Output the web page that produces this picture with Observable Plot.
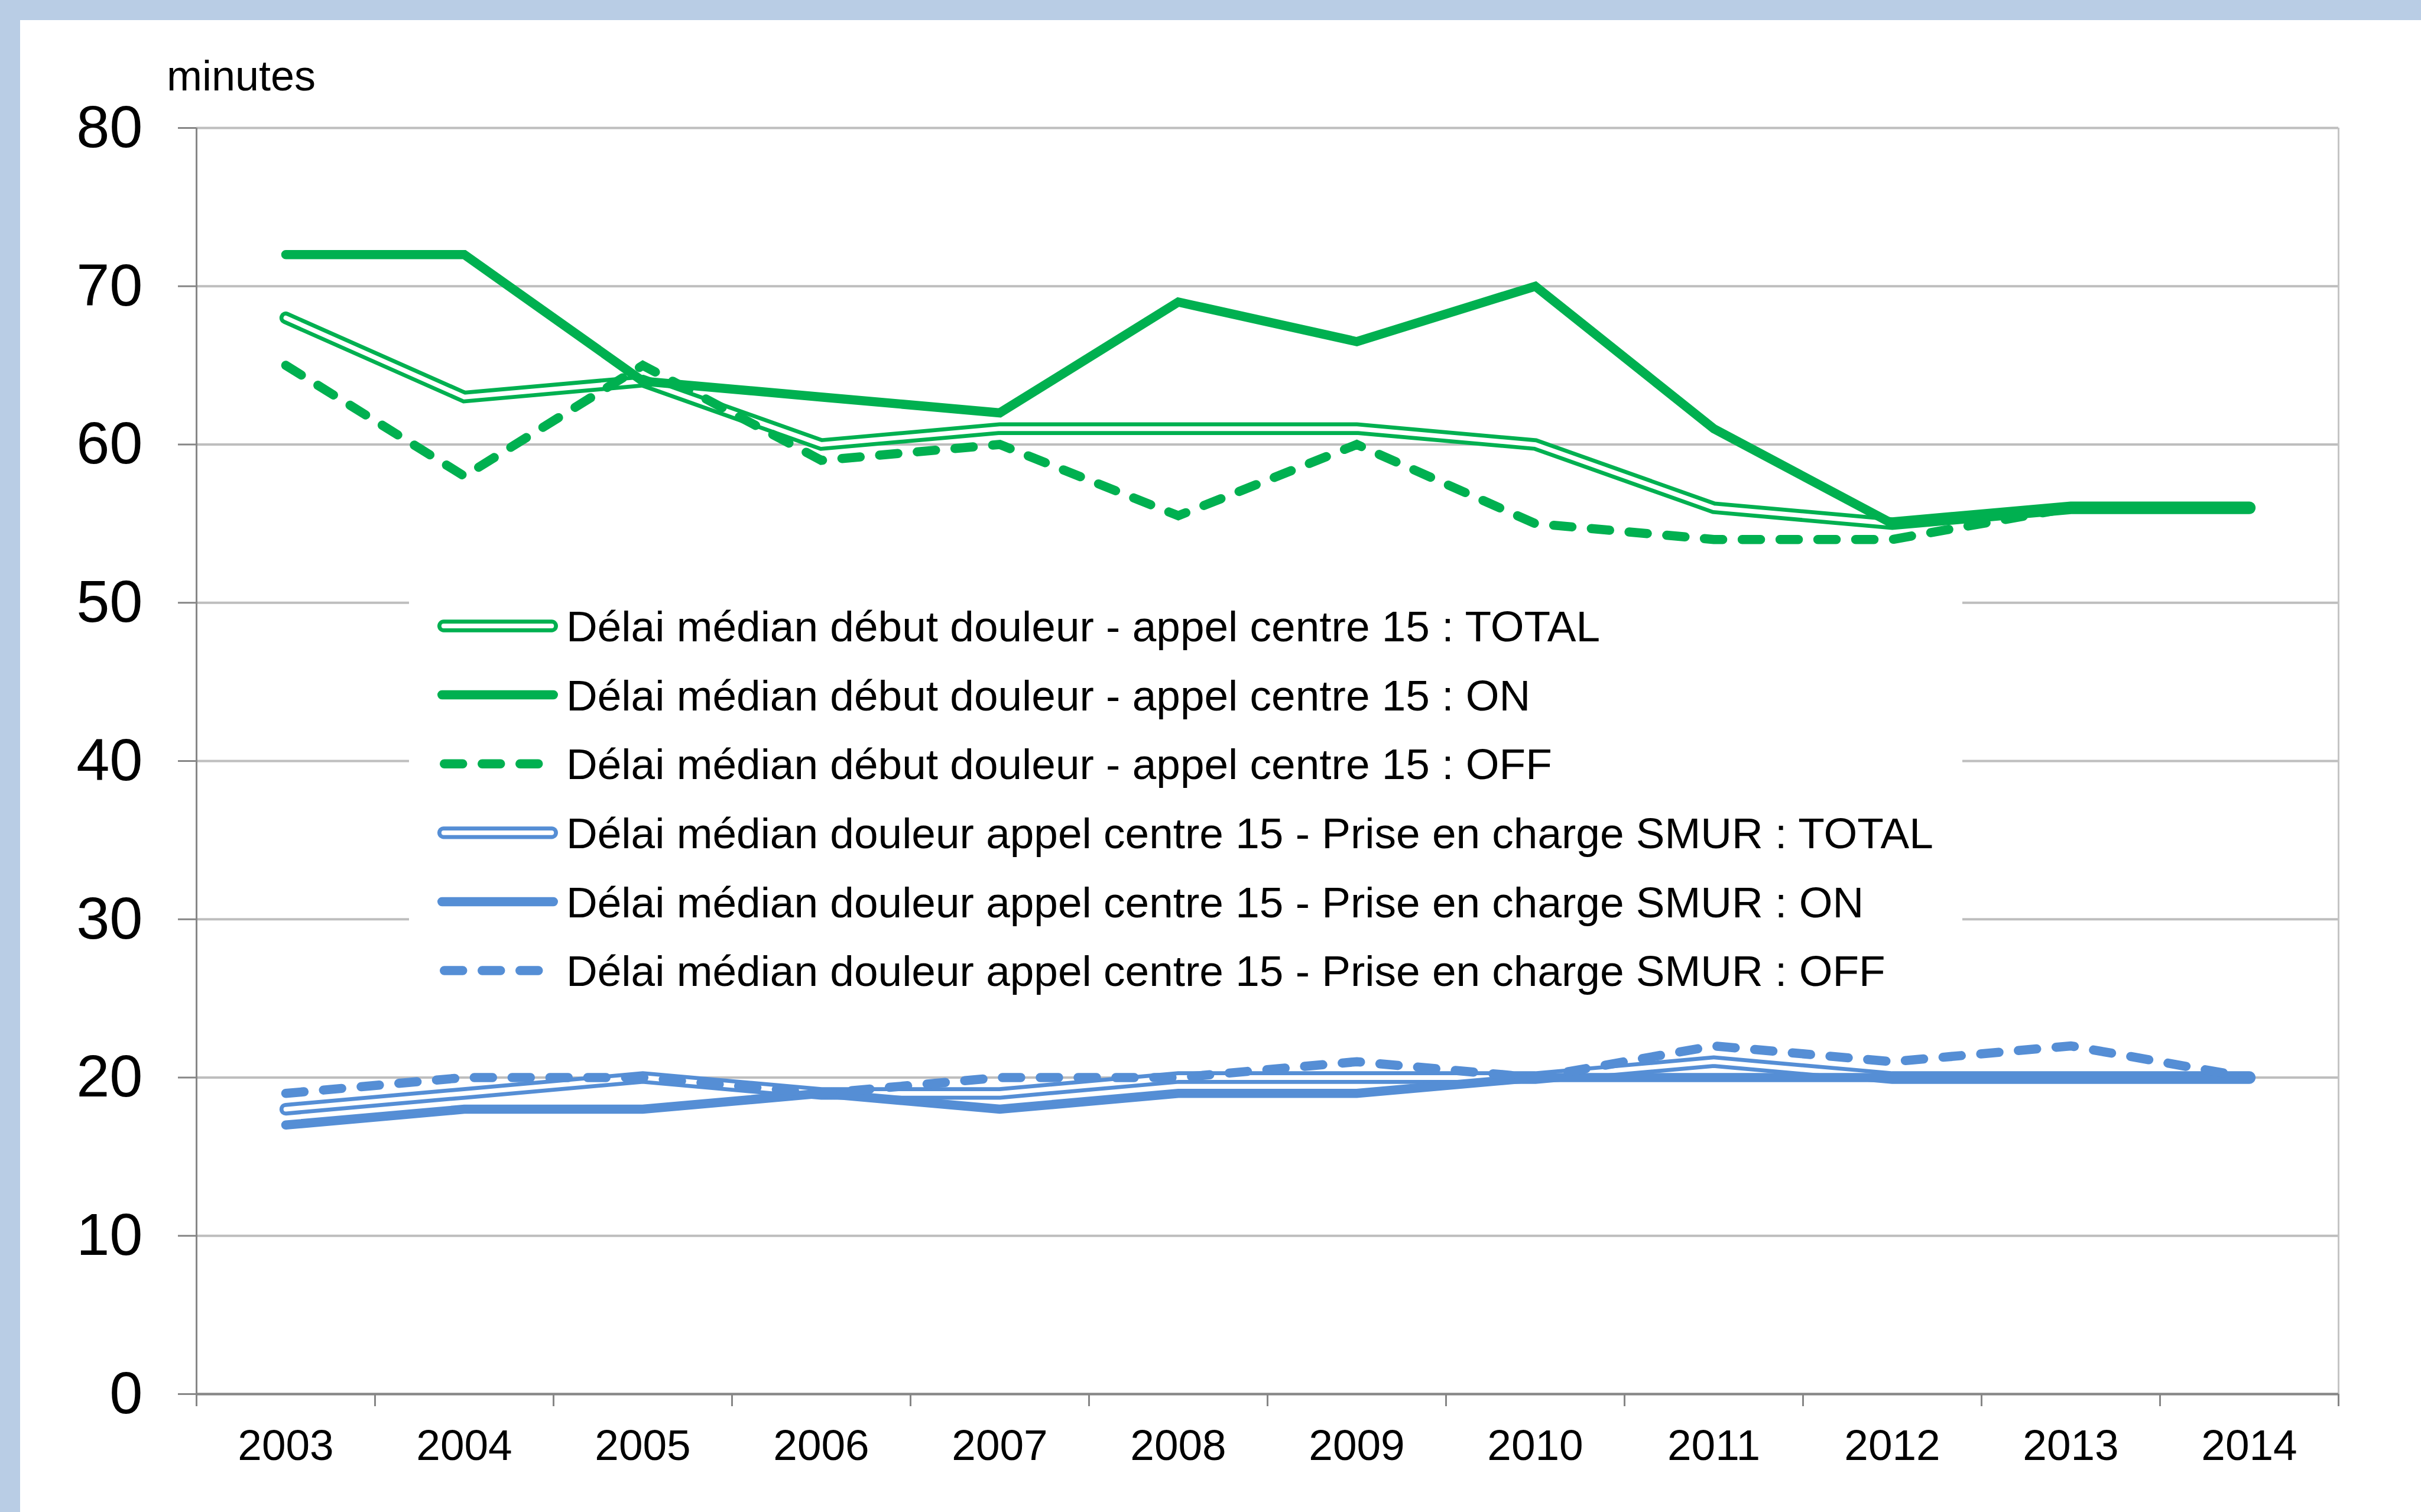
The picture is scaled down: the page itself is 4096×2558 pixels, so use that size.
<!DOCTYPE html>
<html>
<head>
<meta charset="utf-8">
<script src="https://cdn.jsdelivr.net/npm/d3@7"></script>
<script src="https://cdn.jsdelivr.net/npm/@observablehq/plot@0.6"></script>
<style>
html, body { margin: 0; padding: 0; overflow: hidden; }
body { width: 4096px; height: 2558px; background: #B9CDE5; position: relative; font-family: "Liberation Sans", Arial, sans-serif; }
#panel { position: absolute; left: 34px; top: 34px; right: 0; bottom: 0; background: #ffffff; }
#chart { position: absolute; left: 0; top: 0; }
#unit { position: absolute; left: 282px; top: 92px; font-size: 72px; line-height: 72px; color: #000; white-space: nowrap; }
#legend { position: absolute; left: 692px; top: 999px; }
</style>
</head>
<body>
<div id="panel"></div>
<div id="chart"></div>
<div id="unit">minutes</div>
<div id="legend"></div>
<script>
// ---- data ----
const years = [2003, 2004, 2005, 2006, 2007, 2008, 2009, 2010, 2011, 2012, 2013, 2014];
const yTicks = [0, 10, 20, 30, 40, 50, 60, 70, 80];
const xBounds = [2002.5, 2003.5, 2004.5, 2005.5, 2006.5, 2007.5, 2008.5, 2009.5, 2010.5, 2011.5, 2012.5, 2013.5, 2014.5];

const greenTotal = [68, 63, 64, 60, 61, 61, 61, 60, 56, 55, 56, 56];
const greenOn    = [72, 72, 64, 63, 62, 69, 66.5, 70, 61, 55, 56, 56];
const greenOff   = [65, 58, 65, 59, 60, 55.5, 60, 55, 54, 54, 56, 56];
const blueTotal  = [18, 19, 20, 19, 19, 20, 20, 20, 21, 20, 20, 20];
const blueOn     = [17, 18, 18, 19, 18, 19, 19, 20, 20, 20, 20, 20];
const blueOff    = [19, 20, 20, 19, 20, 20, 21, 20, 22, 21, 22, 20];

const seriesNames = [
  "Délai médian début douleur - appel centre 15 : TOTAL",
  "Délai médian début douleur - appel centre 15 : ON",
  "Délai médian début douleur - appel centre 15 : OFF",
  "Délai médian douleur appel centre 15 - Prise en charge SMUR : TOTAL",
  "Délai médian douleur appel centre 15 - Prise en charge SMUR : ON",
  "Délai médian douleur appel centre 15 - Prise en charge SMUR : OFF"
];

const GREEN = "#00B050";
const BLUE = "#558ED5";
const series = [
  {values: greenTotal, color: GREEN, style: "double"},
  {values: greenOn,    color: GREEN, style: "solid"},
  {values: greenOff,   color: GREEN, style: "dash"},
  {values: blueTotal,  color: BLUE,  style: "double"},
  {values: blueOn,     color: BLUE,  style: "solid"},
  {values: blueOff,    color: BLUE,  style: "dash"}
];

// ---- styles ----
const W_SOLID = 15.5, W_DOUBLE = 21.3, W_INNER = 7.8, DASH = "31,33";

function seriesMarks(s) {
  const d = years.map((year, i) => ({year, value: s.values[i]}));
  const base = {x: "year", y: "value", strokeLinejoin: "miter", strokeMiterlimit: 4, strokeLinecap: "round"};
  if (s.style === "double") return [
    Plot.line(d, {...base, stroke: s.color, strokeWidth: W_DOUBLE}),
    Plot.line(d, {...base, stroke: "#ffffff", strokeWidth: W_INNER})
  ];
  if (s.style === "solid") return [Plot.line(d, {...base, stroke: s.color, strokeWidth: W_SOLID})];
  return [Plot.line(d, {...base, stroke: s.color, strokeWidth: W_SOLID, strokeDasharray: DASH})];
}

const chart = Plot.plot({
  width: 4096,
  height: 2558,
  marginLeft: 332,
  marginRight: 140,
  marginTop: 216,
  marginBottom: 200,
  x: {type: "linear", domain: [2002.5, 2014.5]},
  y: {type: "linear", domain: [0, 80]},
  style: {background: "transparent", fontFamily: "'Liberation Sans', Arial, sans-serif", color: "#000", overflow: "visible"},
  marks: [
    Plot.gridY(yTicks, {stroke: "#BEBEBE", strokeOpacity: 1, strokeWidth: 4}),
    Plot.ruleX([xBounds[xBounds.length - 1]], {stroke: "#C4C4C4", strokeWidth: 3}),
    Plot.ruleX([xBounds[0]], {stroke: "#868686", strokeWidth: 3}),
    Plot.ruleY([0], {stroke: "#868686", strokeWidth: 4}),
    Plot.axisY(yTicks, {anchor: "left", tickSize: 31, tickPadding: 60, fontSize: 101, stroke: "#868686", strokeWidth: 3, fill: "#000", label: null, tickFormat: d => String(d)}),
    Plot.axisX(years, {anchor: "bottom", tickSize: 0, tickPadding: 60, fontSize: 73, fill: "#000", label: null, tickFormat: d => String(d)}),
    Plot.axisX(xBounds, {anchor: "bottom", tickSize: 21, stroke: "#868686", strokeWidth: 3, label: null, tickFormat: () => ""}),
    ...series.flatMap(seriesMarks)
  ]
});
document.getElementById("chart").appendChild(chart);

// ---- legend (overlay with white background) ----
const LW = 2628, LH = 708, FS = 73;
const leg = d3.select("#legend").append("svg")
  .attr("width", LW).attr("height", LH)
  .style("display", "block")
  .style("font-family", "'Liberation Sans', Arial, sans-serif");
leg.append("rect").attr("width", LW).attr("height", LH).attr("fill", "#ffffff");
series.forEach((s, i) => {
  const cy = 60 + i * 116.6;
  const g = leg.append("g");
  if (s.style === "double") {
    g.append("line").attr("x1", 48 + W_DOUBLE / 2).attr("x2", 252 - W_DOUBLE / 2).attr("y1", cy).attr("y2", cy)
      .attr("stroke", s.color).attr("stroke-width", W_DOUBLE).attr("stroke-linecap", "round");
    g.append("line").attr("x1", 48 + W_DOUBLE / 2).attr("x2", 252 - W_DOUBLE / 2).attr("y1", cy).attr("y2", cy)
      .attr("stroke", "#ffffff").attr("stroke-width", W_INNER).attr("stroke-linecap", "round");
  } else if (s.style === "solid") {
    g.append("line").attr("x1", 48 + W_SOLID / 2).attr("x2", 252 - W_SOLID / 2).attr("y1", cy).attr("y2", cy)
      .attr("stroke", s.color).attr("stroke-width", W_SOLID).attr("stroke-linecap", "round");
  } else {
    g.append("line").attr("x1", 52 + W_SOLID / 2).attr("x2", 52 + W_SOLID / 2 + 159).attr("y1", cy).attr("y2", cy)
      .attr("stroke", s.color).attr("stroke-width", W_SOLID).attr("stroke-linecap", "round")
      .attr("stroke-dasharray", DASH);
  }
  g.append("text").attr("x", 266).attr("y", cy + 0.358 * FS)
    .attr("font-size", FS).attr("fill", "#000").text(seriesNames[i]);
});
</script>
</body>
</html>
